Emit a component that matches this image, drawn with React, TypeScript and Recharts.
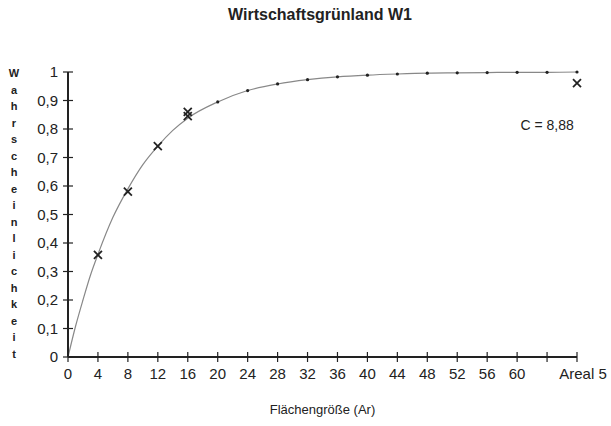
import { ComposedChart, Line, Scatter, XAxis, YAxis, ReferenceDot, Label } from 'recharts';

// fitted curve
const curveX = [0, 1, 2, 3, 4, 6, 8, 10, 12, 14, 16, 20, 24, 28, 32, 36, 40, 44, 48, 52, 56, 60, 64, 68];
const curveY = [0, 0.107, 0.2, 0.287, 0.36, 0.49, 0.59, 0.675, 0.74, 0.795, 0.838, 0.895, 0.935, 0.958, 0.973, 0.983, 0.989, 0.993, 0.996, 0.997, 0.998, 0.999, 0.999, 1.0];

// observed values (crosses)
const obsX = [4, 8, 12, 16, 16, 68];
const obsY = [0.358, 0.58, 0.74, 0.86, 0.845, 0.961];

const xTicks = [0, 4, 8, 12, 16, 20, 24, 28, 32, 36, 40, 44, 48, 52, 56, 60, 64, 68];
const xTickLabels: Record<number, string> = { 64: '', 68: 'Areal 5' };
const yTicks = [0, 0.1, 0.2, 0.3, 0.4, 0.5, 0.6, 0.7, 0.8, 0.9, 1];

const yTitle = 'Wahrscheinlichkeit';
const title = 'Wirtschaftsgrünland W1';
const note = 'C = 8,88';

const curve = curveX.map((x, i) => ({ x, y: curveY[i] }));
const obs = obsX.map((x, i) => ({ x, y: obsY[i] }));

const ink = '#222';
const font = '"Liberation Sans", Arial, sans-serif';

const XTick = ({ x, y, payload }: any) => {
  const v = payload.value;
  const text = v in xTickLabels ? xTickLabels[v] : String(v);
  // the last label sits a bit right of its tick
  const shift = v === 68 ? 6 : 0;
  return (
    <g>
      <line x1={x} x2={x} y1={y - 5} y2={y + 5} stroke={ink} strokeWidth={1.2} />
      <text x={x + shift} y={y + 22} textAnchor="middle" fontSize={15} fill={ink} fontFamily={font}>
        {text}
      </text>
    </g>
  );
};

const YTick = ({ x, y, payload }: any) => (
  <g>
    <line x1={x - 5} x2={x + 5} y1={y} y2={y} stroke={ink} strokeWidth={1.2} />
    <text x={x - 10} y={y + 5} textAnchor="end" fontSize={15} fill={ink} fontFamily={font}>
      {String(payload.value).replace('.', ',')}
    </text>
  </g>
);

const Cross = ({ cx, cy }: any) => (
  <g stroke={ink} strokeWidth={1.8}>
    <line x1={cx - 4} y1={cy - 4} x2={cx + 4} y2={cy + 4} />
    <line x1={cx - 4} y1={cy + 4} x2={cx + 4} y2={cy - 4} />
  </g>
);

const CurveDot = (props: any) => {
  const { cx, cy, payload, index } = props;
  if (payload.x < 20 || payload.x % 4 !== 0) return <g key={index} />;
  return <circle key={index} cx={cx} cy={cy} r={1.6} fill={ink} />;
};

const VerticalTitle = () => (
  <text x={14} textAnchor="middle" fontSize={11} fontWeight="bold" fill={ink} fontFamily={font}>
    {yTitle.split('').map((ch, i) => (
      <tspan key={i} x={14} y={77 + i * 16.5}>
        {ch}
      </tspan>
    ))}
  </text>
);

export default function App() {
  return (
    <div style={{ position: 'absolute', left: 0, top: 0, width: 611, height: 426, background: '#fff', fontFamily: font }}>
      <div
        style={{
          position: 'absolute',
          left: 0,
          top: 6,
          width: 640,
          textAlign: 'center',
          fontSize: 16,
          fontWeight: 'bold',
          color: ink,
        }}
      >
        {title}
      </div>
      <ComposedChart width={611} height={426} margin={{ top: 72, right: 34, bottom: 0, left: 0 }}>
        <XAxis
          type="number"
          dataKey="x"
          domain={[0, 68]}
          ticks={xTicks}
          interval={0}
          tick={<XTick />}
          tickLine={false}
          tickSize={0}
          tickMargin={0}
          height={69}
          axisLine={{ stroke: ink, strokeWidth: 2 }}
        >
          <Label value="Flächengröße (Ar)" position="insideBottom" offset={12} fontSize={13} fill={ink} fontFamily={font} />
        </XAxis>
        <YAxis
          type="number"
          dataKey="y"
          domain={[0, 1]}
          ticks={yTicks}
          interval={0}
          tick={<YTick />}
          tickLine={false}
          tickSize={0}
          tickMargin={0}
          width={68}
          axisLine={{ stroke: ink, strokeWidth: 2 }}
        >
          <Label content={<VerticalTitle />} />
        </YAxis>
        <Line
          data={curve}
          dataKey="y"
          type="monotone"
          stroke="#888"
          strokeWidth={1.2}
          dot={CurveDot}
          activeDot={false}
          isAnimationActive={false}
        />
        <Scatter data={obs} dataKey="y" shape={<Cross />} isAnimationActive={false} />
        <ReferenceDot x={64} y={0.814} r={0} fill="none" stroke="none">
          <Label value={note} position="center" fontSize={14} fill={ink} fontFamily={font} />
        </ReferenceDot>
      </ComposedChart>
    </div>
  );
}
